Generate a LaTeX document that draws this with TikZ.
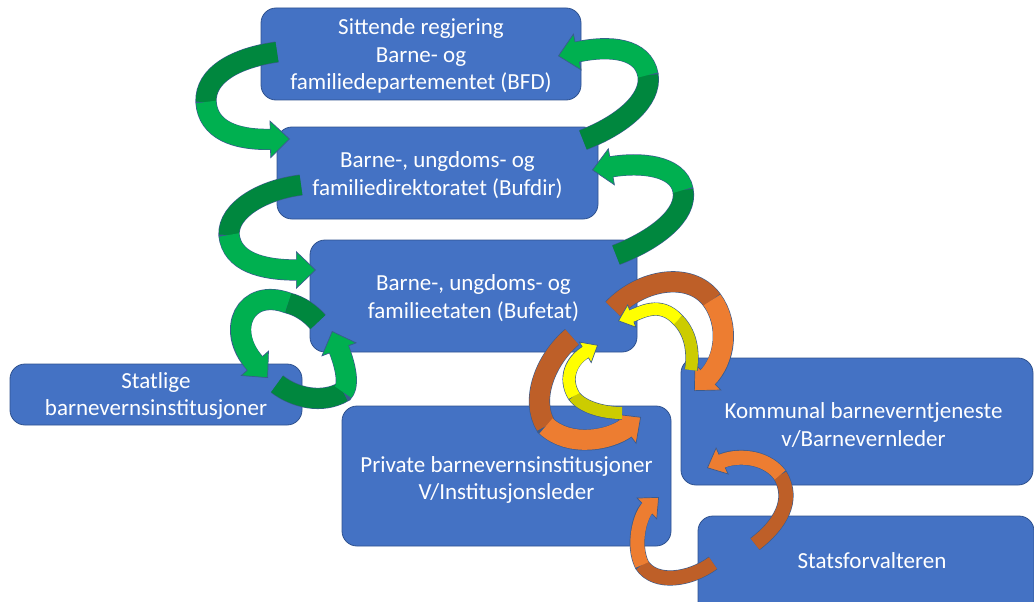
\documentclass[tikz,border=0pt]{standalone}
\usepackage{fontspec}
\setmainfont{Carlito}
\usetikzlibrary{arrows.meta}
\definecolor{boxc}{HTML}{4472C4}
\definecolor{boxe}{HTML}{2F528F}
\definecolor{edgec}{HTML}{3A5B8E}
\definecolor{gL}{HTML}{00B050}
\definecolor{gD}{HTML}{00873E}
\definecolor{oL}{HTML}{ED7D31}
\definecolor{oD}{HTML}{BE5F28}
\definecolor{yL}{HTML}{FFFF00}
\definecolor{yD}{HTML}{CCCC00}
\tikzset{
  box/.style={draw=boxe, line width=0.8pt, fill=boxc, rounded corners=15pt},
  lbl/.style={text=white, align=center, font=\fontsize{23}{27.5}\selectfont},
  % big green
  gout/.style={draw=edgec, line width=21.2pt, -{Triangle[width=38pt,length=20pt,line width=0.7pt,fill=gL]}},
  gdk/.style={draw=gD, line width=20pt},
  glt/.style={draw=gL, line width=20pt, shorten >=18pt},
  % big orange
  oout/.style={draw=edgec, line width=21.2pt, -{Triangle[width=38pt,length=20pt,line width=0.7pt,fill=oL]}},
  odk/.style={draw=oD, line width=20pt},
  olt/.style={draw=oL, line width=20pt, shorten >=18pt},
  % small orange
  sout/.style={draw=edgec, line width=15.2pt, -{Triangle[width=30pt,length=17pt,line width=0.7pt,fill=oL]}},
  sdk/.style={draw=oD, line width=14pt},
  slt/.style={draw=oL, line width=14pt, shorten >=15pt},
  % yellow
  yout/.style={draw=edgec, line width=13.2pt, -{Triangle[width=25pt,length=15pt,line width=0.7pt,fill=yL]}},
  ydk/.style={draw=yD, line width=12pt},
  ylt/.style={draw=yL, line width=12pt, shorten >=13pt},
}
\newcommand{\ribarrow}[4]{%
  \draw[#1out] #2 #4;
  \draw[#1dk] #2;
  \draw[#1lt] #3 #4;
}
\begin{document}
\begin{tikzpicture}[x=1pt,y=-1pt]
\useasboundingbox (0,0) rectangle (1034,602);
% boxes
\node[box, minimum width=320pt, minimum height=92pt] (bfd) at (421,54) {};
\node[box, minimum width=321pt, minimum height=92pt] (bufdir) at (437.5,173) {};
\node[box, minimum width=327pt, minimum height=112pt] (bufetat) at (473.5,296) {};
\node[box, minimum width=292pt, minimum height=61pt] (statlige) at (156,394.5) {};
\node[box, minimum width=329pt, minimum height=140pt] (private) at (506.5,476) {};
\node[box, minimum width=352pt, minimum height=127pt] (kommunal) at (857,421.5) {};
\node[box, minimum width=336pt, minimum height=110pt] (statsf) at (866,571) {};
% labels
\node[lbl] (t1) at (421,56) {Sittende regjering\\Barne- og\\familiedepartementet (BFD)};
\node[lbl] (t2) at (437.5,175) {Barne-, ungdoms- og\\familiedirektoratet (Bufdir)};
\node[lbl] (t3) at (473.5,298) {Barne-, ungdoms- og\\familieetaten (Bufetat)};
\node[lbl] (t4) at (156,396) {Statlige\\barnevernsinstitusjoner};
\node[lbl] (t5) at (506.5,480) {Private barnevernsinstitusjoner\\V/Institusjonsleder};
\node[lbl] (t6) at (863.5,425) {Kommunal barneverntjeneste\\v/Barnevernleder};
\node[lbl] (t7) at (872,561) {Statsforvalteren};
% green arrows
\ribarrow{g}{(277,52) .. controls (235,58) and (205,75) .. (206,102)}{(206,102)}{.. controls (208,130) and (235,140) .. (290,139)}
\ribarrow{g}{(301,185) .. controls (262,190) and (228,210) .. (229,235)}{(229,235)}{.. controls (232,262) and (262,270) .. (316,270)}
\ribarrow{g}{(583,140) .. controls (622,125) and (652,100) .. (648,75)}{(648,75)}{.. controls (643,48) and (610,45) .. (558,56)}
\ribarrow{g}{(616,255) .. controls (655,240) and (688,215) .. (683,190)}{(683,190)}{.. controls (678,165) and (640,162) .. (592,170)}
\ribarrow{g}{(318,322) .. controls (310,313) and (300,306) .. (288,303)}{(288,303)}{.. controls (245,287) and (225,330) .. (268,378)}
\ribarrow{g}{(277,384) .. controls (295,398) and (322,404) .. (343,392)}{(343,392)}{.. controls (352,382) and (340,352) .. (332,331)}
% orange big
\ribarrow{o}{(613,309) .. controls (640,280) and (690,270) .. (712,300)}{(712,300)}{.. controls (730,325) and (725,360) .. (694,391)}
\ribarrow{o}{(572,337) .. controls (545,360) and (530,400) .. (546,426)}{(546,426)}{.. controls (570,448) and (610,440) .. (641,417)}
% yellow
\ribarrow{y}{(691,370) .. controls (694,350) and (690,332) .. (678,320)}{(678,320)}{.. controls (660,300) and (640,313) .. (618,321)}
\ribarrow{y}{(622,413) .. controls (605,413) and (583,408) .. (574,396)}{(574,396)}{.. controls (563,378) and (572,360) .. (598,345)}
% small orange
\ribarrow{s}{(755,544) .. controls (780,525) and (795,500) .. (780,475)}{(780,475)}{.. controls (765,455) and (735,455) .. (707,468)}
\ribarrow{s}{(713,563) .. controls (690,580) and (655,585) .. (642,565)}{(642,565)}{.. controls (632,545) and (640,515) .. (659,497)}
\end{tikzpicture}
\end{document}
